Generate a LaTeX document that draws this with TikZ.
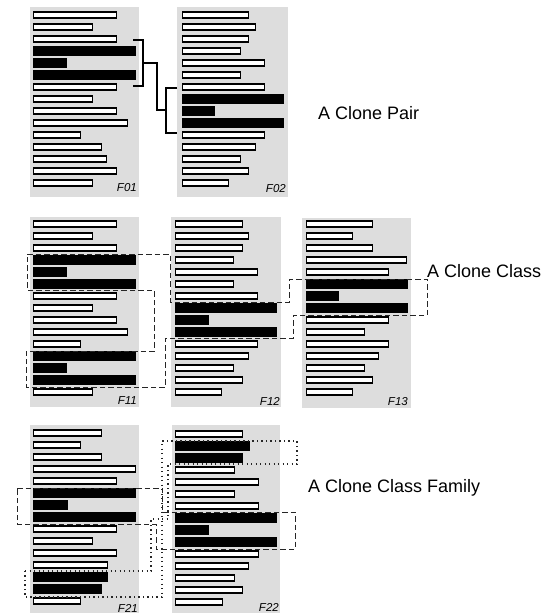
\documentclass[tikz,border=0pt]{standalone}
\usepackage{fontspec}
\setmainfont{Liberation Sans}
\definecolor{panelgrey}{RGB}{221,221,221}
\newcommand\mypanel[7]{%
  \fill[panelgrey] (#1,#2) rectangle (#3,#4);
  \foreach \w/\b [count=\i] in {#7} {
    \pgfmathsetmacro\yc{#6+12*(\i-1)}
    \ifnum\b=1
      \fill[black] (#5,\yc-4.7) rectangle ++(\w,9.4);
    \else
      \draw[whitebar] (#5+0.7,\yc-3.05) rectangle ++(\w-1.4,6.1);
    \fi
  }
}
\begin{document}
\begin{tikzpicture}[x=1pt,y=-1pt,
  whitebar/.style={draw=black,fill=white,line width=1.4pt},
  flabel/.style={font=\itshape\fontsize{11.5}{13}\selectfont, anchor=base east, inner sep=0pt},
  biglabel/.style={font=\fontsize{18}{21}\selectfont, anchor=base west, inner sep=0pt},
  bracket/.style={line width=1.3pt},
  clonedash/.style={draw=black!85, line width=1pt, dash pattern=on 5.5pt off 3pt},
  clonedot/.style={draw=black!85, line width=1.2pt, dash pattern=on 1.1pt off 3.4pt}]
\useasboundingbox (0,0) rectangle (547,613);
% row 1
\mypanel{30}{7}{139}{197}{33}{15}{84/0,60/0,84/0,103/1,34/1,103/1,84/0,60/0,84/0,95/0,48/0,69/0,74/0,84/0,60/0}
\mypanel{177}{7}{288}{197}{182}{15}{67/0,74/0,67/0,59/0,83/0,59/0,83/0,102/1,33/1,102/1,83/0,74/0,59/0,67/0,47/0}
% row 2
\mypanel{30}{217}{139}{407}{33}{224}{84/0,60/0,84/0,103/1,34/1,103/1,84/0,60/0,84/0,95/0,48/0,103/1,34/1,103/1,60/0}
\mypanel{171}{217}{281}{407}{175}{224}{68/0,74/0,68/0,59/0,83/0,59/0,83/0,102/1,34/1,102/1,83/0,74/0,59/0,68/0,47/0}
\mypanel{302}{218}{411}{408}{306}{224}{67/0,47/0,67/0,101/0,83/0,102/1,33/1,102/1,83/0,59/0,83/0,73/0,59/0,67/0,47/0}
% row 3
\mypanel{30}{425}{139}{613}{33}{433}{69/0,48/0,69/0,103/0,84/0,103/1,35/1,103/1,84/0,60/0,84/0,75/0,75/1,69/1,48/0}
\mypanel{172}{425}{280}{613}{175}{434}{68/0,75/1,68/1,60/0,84/0,60/0,84/0,102/1,34/1,102/1,84/0,74/0,60/0,68/0,48/0}
% file labels
\node[flabel] (f01) at (137,191.5) {F01};
\node[flabel] (f02) at (286,192) {F02};
\node[flabel] (f11) at (137,404) {F11};
\node[flabel] (f12) at (280,405) {F12};
\node[flabel] (f13) at (408,405) {F13};
\node[flabel] (f21) at (138,612) {F21};
\node[flabel] (f22) at (279,611) {F22};
% clone pair brackets
\coordinate (b1t) at (133,40); \coordinate (b1b) at (133,86);
\coordinate (b2t) at (177,88); \coordinate (b2b) at (177,133);
\draw[bracket] (b1t) -- (143,40) -- (143,86) -- (b1b);
\draw[bracket] (b2t) -- (166,88) -- (166,133) -- (b2b);
\draw[bracket] (143,63) -- (157,63) -- (157,110) -- (166,110);
% clone class
\draw[clonedash] (27,254) -- (170,254) -- (170,302) -- (289,302) -- (289,279) -- (427,279)
  -- (427,315) -- (293,315) -- (293,338) -- (165,338) -- (165,387) -- (26,387) -- (26,351)
  -- (154,351) -- (154,290) -- (27,290) -- cycle;
% clone class family
\draw[clonedash] (17,488) -- (162,488) -- (162,512) -- (295,512) -- (295,549) -- (156,549)
  -- (156,524) -- (17,524) -- cycle;
\draw[clonedot] (25,571) -- (151,571) -- (151,519) -- (168,519) -- (168,464) -- (297,464)
  -- (297,441) -- (162,441) -- (162,597) -- (25,597) -- cycle;
% labels
\node[biglabel] (pair) at (318,119) {A Clone Pair};
\node[biglabel] (class) at (427,277) {A Clone Class};
\node[biglabel] (family) at (308,492) {A Clone Class Family};
\end{tikzpicture}
\end{document}
